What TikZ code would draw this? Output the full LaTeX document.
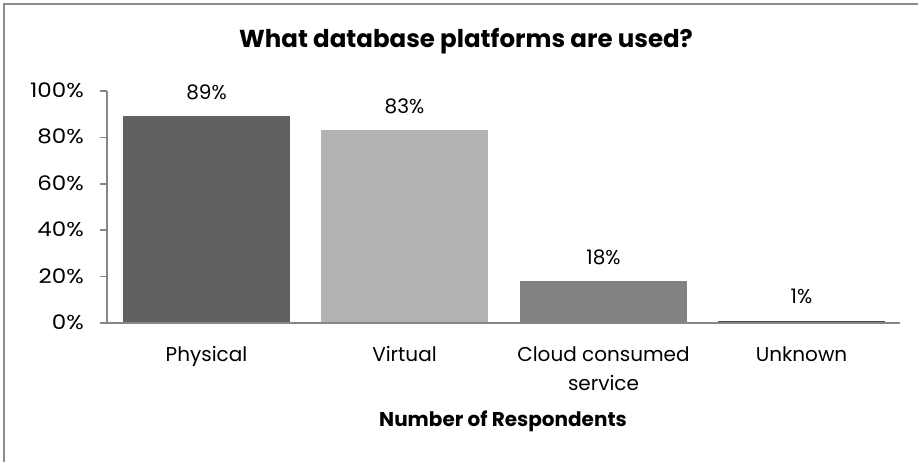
\documentclass[tikz,border=0pt]{standalone}
\usepackage{fontspec}
\setmainfont{Poppins}
\definecolor{cPhys}{HTML}{616161}
\definecolor{cVirt}{HTML}{B2B2B2}
\definecolor{cCloud}{HTML}{828282}
\definecolor{cUnk}{HTML}{4A4A4A}
\definecolor{axisgray}{HTML}{868686}
\definecolor{framegray}{HTML}{8C8C8C}
\begin{document}
\begin{tikzpicture}[x=1pt,y=-1pt,
  lblfont/.style={font=\fontsize{20}{29}\selectfont},
  ticklab/.style={lblfont,anchor=base east,inner sep=0pt},
  vallab/.style={lblfont,anchor=base,inner sep=0pt},
  catlab/.style={lblfont,anchor=base,align=center,inner sep=0pt},
  axisline/.style={draw=axisgray,line width=1.5pt},
  frameline/.style={draw=framegray,line width=2pt}]
\useasboundingbox (0,0) rectangle (918,462);
\fill[white] (0,0) rectangle (918,462);
\draw[frameline] (4,470) -- (4,4) -- (925,4);
% title
\node[font=\bfseries\fontsize{24.5}{28}\selectfont,anchor=base,inner sep=0pt] (title) at (466,48) {What database platforms are used?};
% bars
\fill[cPhys] (123,323) rectangle (290,116.5);
\fill[cVirt] (321,323) rectangle (488,130.4);
\fill[cCloud] (520,323) rectangle (687,281.2);
\fill[cUnk] (718,323) rectangle (885,320.7);
% axes
\draw[axisline] (107,323) -- (107,91);
\foreach \v/\y in {0/323,20/276.6,40/230.2,60/183.8,80/137.4,100/91}{
  \draw[axisline] (100,\y) -- (107,\y);
  \node[ticklab,xscale=1.15] (t\v) at (84,\y+6.5) {\v\%};
}
\draw[axisline] (100,323) -- (900,323);
% value labels
\node[vallab] (v1) at (206.5,99.5) {89\%};
\node[vallab] (v2) at (404.5,113.4) {83\%};
\node[vallab] (v3) at (603.5,264.2) {18\%};
\node[vallab] (v4) at (801.5,303.7) {1\%};
% category labels
\node[catlab] (c1) at (206.5,361) {Physical};
\node[catlab] (c2) at (404.5,361) {Virtual};
\node[catlab,anchor=north] (c3) at (603.5,346) {Cloud consumed\\service};
\node[catlab] (c4) at (801.5,361) {Unknown};
\node[font=\bfseries\fontsize{20}{24}\selectfont,anchor=base,inner sep=0pt] (xt) at (503,426) {Number of Respondents};
\end{tikzpicture}
\end{document}
